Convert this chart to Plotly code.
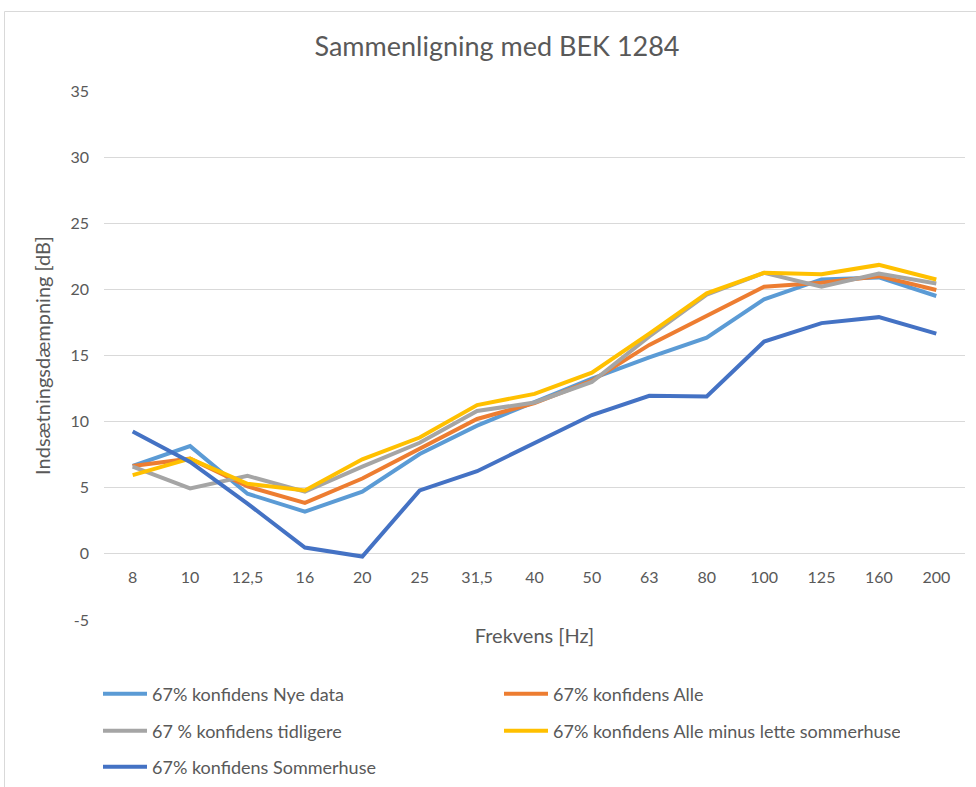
import plotly.graph_objects as go

freqs = ["8", "10", "12,5", "16", "20", "25", "31,5", "40", "50", "63", "80", "100", "125", "160", "200"]

nye_data = [6.65, 8.15, 4.55, 3.2, 4.7, 7.55, 9.7, 11.5, 13.25, 14.85, 16.35, 19.25, 20.75, 20.9, 19.5]
alle = [6.65, 7.2, 5.1, 3.85, 5.7, 7.95, 10.2, 11.4, 13.1, 15.8, 18.0, 20.2, 20.5, 21.0, 19.95]
tidligere = [6.6, 4.95, 5.9, 4.7, 6.6, 8.4, 10.8, 11.45, 13.0, 16.45, 19.6, 21.25, 20.2, 21.2, 20.45]
alle_minus = [5.95, 7.2, 5.3, 4.8, 7.15, 8.8, 11.25, 12.1, 13.7, 16.65, 19.7, 21.25, 21.15, 21.85, 20.75]
sommerhuse = [9.25, 6.95, 3.8, 0.48, -0.2, 4.8, 6.25, 8.4, 10.5, 11.95, 11.9, 16.05, 17.45, 17.9, 16.65]

y_tickvals = [-5, 0, 5, 10, 15, 20, 25, 30, 35]
y_ticktext = ["-5", "0", "5", "10", "15", "20", "25", "30", "35"]

series = [
    ("67% konfidens Nye data", nye_data, "#5B9BD5", "legend"),
    ("67% konfidens Alle", alle, "#ED7D31", "legend"),
    ("67 % konfidens tidligere", tidligere, "#A5A5A5", "legend2"),
    ("67% konfidens Alle minus lette sommerhuse", alle_minus, "#FFC000", "legend2"),
    ("67% konfidens Sommerhuse", sommerhuse, "#4472C4", "legend3"),
]

FONT = "Lato"
TXT = "#595959"

fig = go.Figure()
for name, vals, color, lg in series:
    fig.add_trace(go.Scatter(
        x=freqs, y=vals, name=name, mode="lines",
        line=dict(color=color, width=4),
        legend=lg,
    ))

W, H = 976, 787
L, R, T, B = 104, 11, 91, 167
pw, ph = W - L - R, H - T - B

def px2paper_x(px):
    return (px - L) / pw

def px2paper_y(py):
    return (H - B - py) / ph

legend_common = dict(
    orientation="h", xanchor="left", yanchor="middle",
    font=dict(family=FONT, size=18, color=TXT),
    entrywidth=342, entrywidthmode="pixels", itemwidth=44,
    bgcolor="rgba(0,0,0,0)",
)

fig.update_layout(
    width=W, height=H,
    margin=dict(l=L, r=R, t=T, b=B, autoexpand=False),
    paper_bgcolor="white", plot_bgcolor="white",
    font=dict(family=FONT, color=TXT),
    title=dict(
        text="Sammenligning med BEK 1284",
        font=dict(family=FONT, size=27, color=TXT),
        x=497 / W, xref="container", xanchor="center",
        y=1 - 47 / H, yref="container", yanchor="middle",
    ),
    xaxis=dict(
        type="category", categoryorder="array", categoryarray=freqs,
        range=[-0.5, 14.5],
        anchor="free", position=5 / 40,
        showgrid=False, zeroline=False, showline=False, ticks="",
        tickfont=dict(family=FONT, size=16, color=TXT),
        ticklabelstandoff=12,
        title=dict(text="Frekvens [Hz]", font=dict(family=FONT, size=20, color=TXT), standoff=44),
    ),
    yaxis=dict(
        range=[-5, 35], tickmode="array", tickvals=y_tickvals, ticktext=y_ticktext,
        showgrid=True, gridcolor="#D9D9D9", gridwidth=1,
        zeroline=False, showline=False, ticks="",
        tickfont=dict(family=FONT, size=16, color=TXT),
        ticklabelstandoff=14,
        title=dict(text="Indsætningsdæmpning [dB]", font=dict(family=FONT, size=20, color=TXT), standoff=14),
    ),
    legend=dict(x=px2paper_x(98), y=px2paper_y(694), **legend_common),
    legend2=dict(x=px2paper_x(98), y=px2paper_y(731), **legend_common),
    legend3=dict(x=px2paper_x(98), y=px2paper_y(767), **legend_common),
    shapes=[dict(
        type="rect", xref="paper", yref="paper",
        x0=px2paper_x(4.5), x1=px2paper_x(990),
        y0=px2paper_y(800), y1=px2paper_y(11.5),
        line=dict(color="#D9D9D9", width=1), fillcolor="rgba(0,0,0,0)",
        layer="below",
    )],
)

fig.write_html(
    "out.html",
    config={"displayModeBar": False},
    post_script="document.body.style.margin='0';",
)
